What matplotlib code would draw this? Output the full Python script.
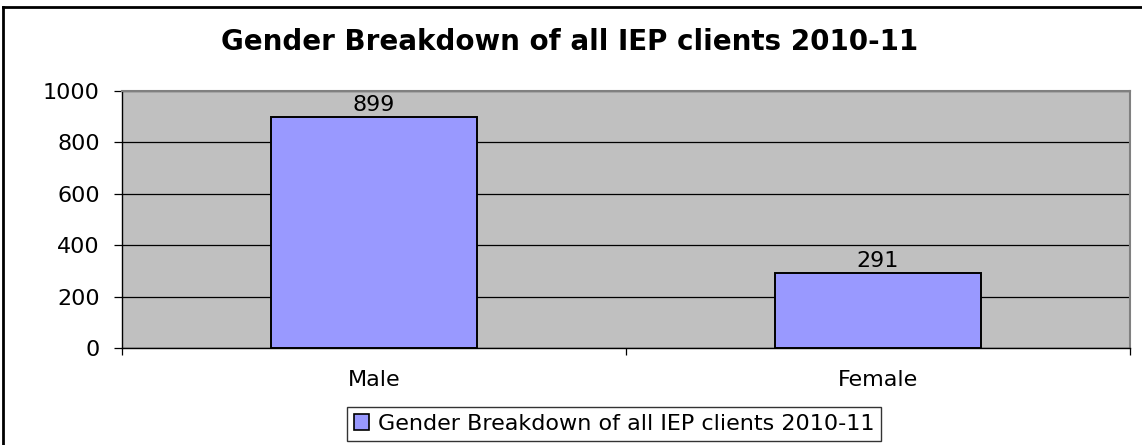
import matplotlib
matplotlib.use("Agg")
import matplotlib.pyplot as plt
from matplotlib.lines import Line2D
from matplotlib.patches import Patch

categories = ["Male", "Female"]
values = [899, 291]
series_name = "Gender Breakdown of all IEP clients 2010-11"
title = "Gender Breakdown of all IEP clients 2010-11"
y_ticks = [0, 200, 400, 600, 800, 1000]

BAR = "#9999FF"
PLOT_BG = "#C0C0C0"

plt.rcParams["font.family"] = ["DejaVu Sans"]

W, H = 1142, 445
fig = plt.figure(figsize=(W / 100, H / 100), dpi=100, facecolor="white")
ax = fig.add_axes([122 / W, 1 - 348 / H, (1130 - 122) / W, (348 - 91) / H])
ax.set_facecolor(PLOT_BG)

x = list(range(len(categories)))
bars = ax.bar(x, values, width=0.41, color=BAR, edgecolor="black", linewidth=1.4, zorder=3)

for b, v in zip(bars, values):
    ax.annotate(str(v), (b.get_x() + b.get_width() / 2, v), xytext=(0, 1.5),
                textcoords="offset points", ha="center", va="bottom", fontsize=16, zorder=4)

ax.set_xlim(-0.5, len(categories) - 0.5)
ax.set_ylim(0, 1000)
ax.set_yticks(y_ticks)
ax.yaxis.grid(True, color="black", linewidth=0.9, zorder=1)
ax.set_axisbelow(True)

ax.set_xticks(x)
ax.set_xticklabels(categories, fontsize=16)
ax.set_xticks([i - 0.5 for i in range(len(categories) + 1)], minor=True)
ax.tick_params(axis="x", which="major", length=0, pad=15.5)
ax.tick_params(axis="x", which="minor", length=5, width=0.9, direction="out")
ax.tick_params(axis="y", length=6, width=0.9, pad=10, labelsize=16)

for s in ["left", "bottom"]:
    ax.spines[s].set_color("black")
    ax.spines[s].set_linewidth(1.0)
for s in ["top", "right"]:
    ax.spines[s].set_color("#808080")
    ax.spines[s].set_linewidth(1.5)

fig.text(570 / W, 1 - 42 / H, title, ha="center", va="center", fontsize=20, fontweight="bold")

handle = Patch(facecolor=BAR, edgecolor="black", linewidth=1.2)
fig.legend([handle], [series_name], loc="center", bbox_to_anchor=(614 / W, 1 - 424 / H),
           fontsize=16, frameon=True, fancybox=False, edgecolor="black",
           handlelength=0.7, handleheight=0.7, handletextpad=0.4, borderpad=0.3,
           borderaxespad=0)

# outer chart border (left and top only are visible)
fig.add_artist(Line2D([3 / W, 3 / W], [0, 1 - 7 / H], transform=fig.transFigure, color="black", linewidth=2))
fig.add_artist(Line2D([3 / W, 1], [1 - 7 / H, 1 - 7 / H], transform=fig.transFigure, color="black", linewidth=2))

fig.savefig("out.png", dpi=100, facecolor="white")
